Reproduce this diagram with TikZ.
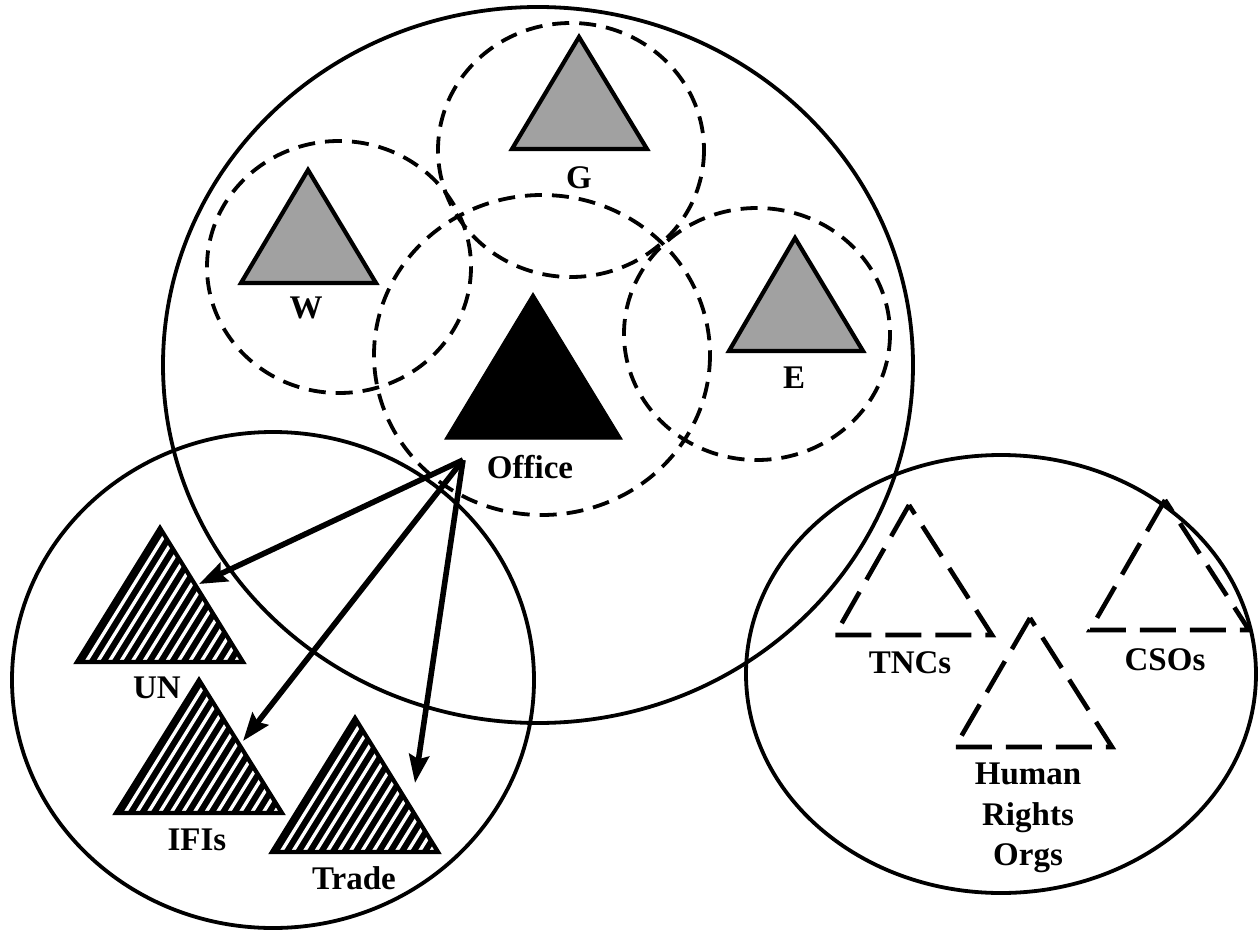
\documentclass[tikz,border=0pt]{standalone}
\usepackage{fontspec}
\setmainfont{Liberation Serif}
\usetikzlibrary{arrows.meta,calc}
\begin{document}
\begin{tikzpicture}[x=1pt,y=-1pt,
  bigcirc/.style={draw=black,line width=3.8pt},
  dcirc/.style={draw=black,line width=3.8pt,dash pattern=on 17pt off 10pt},
  graytri/.style={draw=black,fill=black!37,line width=4.2pt,line join=miter},
  blacktri/.style={draw=black,fill=black,line width=1pt},
  dtri/.style={draw=black,line width=4.6pt,dash pattern=on 36pt off 14pt},
  hatchline/.style={draw=white,line width=3.4pt},
  lbl/.style={font=\fontsize{33}{36}\selectfont\bfseries,inner sep=0pt,anchor=center},
  conn/.style={line width=5.6pt,-{Stealth[length=28pt,width=20pt,inset=4pt]}}
]
\useasboundingbox (0,0) rectangle (1259,934);
\fill[white] (0,0) rectangle (1259,934);

% big circles
\draw[bigcirc] (538,365) ellipse [x radius=375, y radius=358];
\draw[bigcirc] (273,680) ellipse [x radius=261, y radius=248];
\draw[bigcirc] (1001,674) ellipse [x radius=255, y radius=219];

% dashed circles
\draw[dcirc] (571,150) ellipse [x radius=133, y radius=127];
\draw[dcirc] (339,267) ellipse [x radius=132, y radius=126];
\draw[dcirc] (542,355) ellipse [x radius=168, y radius=160];
\draw[dcirc] (757,334) ellipse [x radius=133, y radius=126];

% gray triangles
\draw[graytri] (579,37) -- (512,149) -- (647,149) -- cycle;
\draw[graytri] (308,170) -- (241,283) -- (376,283) -- cycle;
\draw[graytri] (795,238) -- (729,351) -- (863,351) -- cycle;
% office triangle
\draw[blacktri] (533,293) -- (445,439) -- (622,439) -- cycle;

\node[lbl] (lG) at (579,178) {G};
\node[lbl] (lW) at (306,308) {W};
\node[lbl] (lE) at (794,378) {E};
\node[lbl] (lO) at (530,467) {Office};

% hatched triangles
\foreach \ax/\ay/\lx/\ly/\rx [count=\n] in {160/528/77/662/243, 199/680/116/813/282, 355/718/272/852/438}{
  \coordinate (h\n a) at (\ax,\ay);
  \coordinate (h\n l) at (\lx,\ly);
  \coordinate (h\n r) at (\rx,\ly);
  \begin{scope}
    \clip (h\n a) -- (h\n l) -- (h\n r) -- cycle;
    \fill[black] (\lx-5,\ay-5) rectangle (\rx+5,\ly+5);
    \foreach \d in {9,20.5,...,180}{
      \draw[hatchline] ($(h\n l)+(\d,0)$) ++(-12,19.4) -- ++(110,-177.6);
    }
  \end{scope}
  \draw[draw=black,line width=4.2pt,line join=miter] (h\n a) -- (h\n l) -- (h\n r) -- cycle;
}
\node[lbl] (lUN) at (157,688) {UN};
\node[lbl] (lIFI) at (197,840) {IFIs};
\node[lbl] (lTr) at (354,878) {Trade};

% dashed triangles
\draw[dtri] (909,505) -- (835,635) -- (992,635) -- cycle;
\draw[dtri] (1030,618) -- (955,747) -- (1112,747) -- cycle;
\draw[dtri] (1165,500) -- (1090,630) -- (1249,630) -- cycle;
\node[lbl] (lT) at (910,663) {TNCs};
\node[lbl] (lC) at (1165,660) {CSOs};
\node[lbl,align=center,font=\fontsize{33}{40.5}\selectfont\bfseries] (lH) at (1028,818) {Human\\Rights\\Orgs};

% arrows
\coordinate (o) at (463,460);
\coordinate (tUN) at (199,584);
\coordinate (tIFI) at (243,741);
\coordinate (tTr) at (415,783);
\draw[conn] (o) -- (tUN);
\draw[conn] (o) -- (tIFI);
\draw[conn] (o) -- (tTr);
\end{tikzpicture}
\end{document}
